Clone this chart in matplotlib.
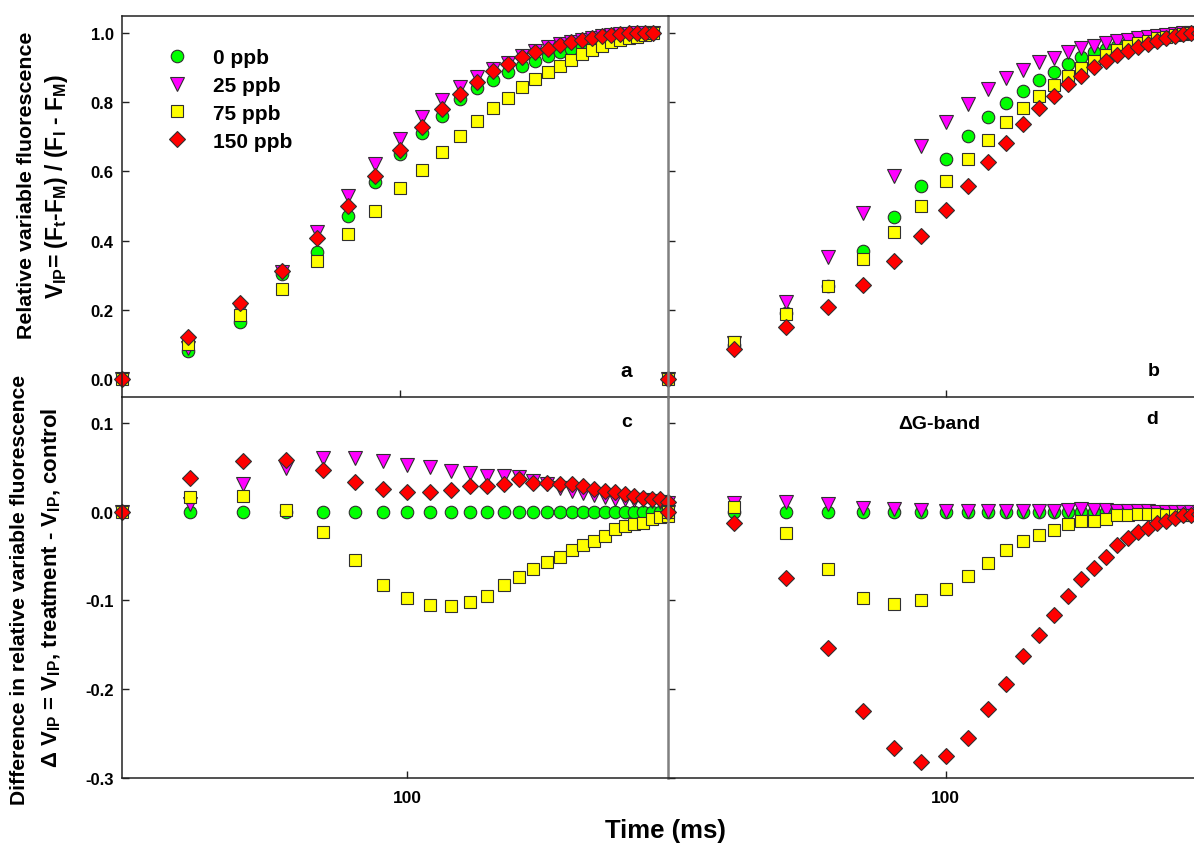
import matplotlib
matplotlib.use('Agg')
import matplotlib.pyplot as plt
from matplotlib.ticker import NullLocator, FixedLocator, FixedFormatter

plt.rcParams['font.family'] = ['Liberation Sans', 'DejaVu Sans']
plt.rcParams['font.weight'] = 'bold'
plt.rcParams['mathtext.fontset'] = 'custom'
plt.rcParams['mathtext.rm'] = 'Liberation Sans:bold'
plt.rcParams['mathtext.it'] = 'Liberation Sans:bold'
plt.rcParams['mathtext.bf'] = 'Liberation Sans:bold'
plt.rcParams['mathtext.default'] = 'rm'

# ---------------- data ----------------
time_ms = [30, 40, 50, 60, 70, 80, 90, 100, 110, 120, 130, 140, 150, 160,
           170, 180, 190, 200, 210, 220, 230, 240, 250, 260, 270, 280, 290, 300]
labels = ['0 ppb', '25 ppb', '75 ppb', '150 ppb']

# panel a : V_IP
a_0 = [0, 0.083, 0.164, 0.305, 0.366, 0.472, 0.568, 0.650, 0.710, 0.760, 0.808, 0.839, 0.863, 0.885,
       0.904, 0.919, 0.933, 0.943, 0.953, 0.961, 0.968, 0.974, 0.979, 0.984, 0.988, 0.992, 0.996, 1.0]
a_25 = [0, 0.090, 0.200, 0.310, 0.425, 0.530, 0.621, 0.693, 0.756, 0.806, 0.842, 0.871, 0.895, 0.912,
        0.932, 0.948, 0.958, 0.967, 0.974, 0.980, 0.985, 0.989, 0.992, 0.995, 0.997, 0.998, 0.999, 1.0]
a_75 = [0, 0.102, 0.185, 0.262, 0.342, 0.419, 0.485, 0.551, 0.605, 0.656, 0.703, 0.745, 0.782, 0.811,
        0.842, 0.867, 0.887, 0.904, 0.922, 0.938, 0.950, 0.962, 0.972, 0.978, 0.983, 0.988, 0.993, 1.0]
a_150 = [0, 0.123, 0.220, 0.313, 0.408, 0.500, 0.587, 0.662, 0.727, 0.780, 0.823, 0.858, 0.888, 0.909,
         0.929, 0.943, 0.953, 0.965, 0.972, 0.979, 0.985, 0.990, 0.993, 0.996, 0.998, 0.999, 1.0, 1.0]

# panel b : V_IP
b_0 = [0, 0.100, 0.190, 0.270, 0.371, 0.467, 0.558, 0.635, 0.701, 0.756, 0.797, 0.832, 0.863, 0.887,
       0.909, 0.929, 0.943, 0.953, 0.962, 0.969, 0.975, 0.981, 0.986, 0.990, 0.993, 0.996, 0.998, 1.0]
b_25 = [0, 0.105, 0.222, 0.352, 0.479, 0.587, 0.674, 0.741, 0.794, 0.837, 0.869, 0.893, 0.914, 0.926,
        0.943, 0.955, 0.962, 0.970, 0.977, 0.980, 0.984, 0.988, 0.991, 0.994, 0.996, 0.998, 0.999, 1.0]
b_75 = [0, 0.107, 0.188, 0.268, 0.347, 0.426, 0.499, 0.573, 0.635, 0.691, 0.741, 0.783, 0.818, 0.850,
        0.876, 0.897, 0.917, 0.935, 0.949, 0.960, 0.969, 0.977, 0.983, 0.988, 0.992, 0.995, 0.998, 1.0]
b_150 = [0, 0.087, 0.150, 0.210, 0.273, 0.340, 0.414, 0.488, 0.557, 0.626, 0.682, 0.735, 0.782, 0.818,
         0.852, 0.874, 0.900, 0.919, 0.936, 0.948, 0.958, 0.967, 0.977, 0.984, 0.990, 0.995, 0.998, 1.0]

# panel c : delta V_IP
c_0 = [0, 0, 0, 0, 0, 0, 0, 0, 0, 0, 0, 0, 0, 0,
       0, 0, 0, 0, 0, 0, 0, 0, 0, 0, 0, 0, 0, 0]
c_25 = [0, 0.009, 0.031, 0.050, 0.061, 0.061, 0.057, 0.053, 0.051, 0.046, 0.044, 0.041, 0.040, 0.039,
        0.035, 0.031, 0.027, 0.024, 0.021, 0.019, 0.017, 0.015, 0.014, 0.013, 0.013, 0.012, 0.011, 0.010]
c_75 = [0, 0.017, 0.018, 0.002, -0.023, -0.054, -0.083, -0.097, -0.105, -0.106, -0.102, -0.095, -0.083, -0.074,
        -0.065, -0.056, -0.051, -0.043, -0.037, -0.033, -0.027, -0.019, -0.016, -0.014, -0.012, -0.008, -0.006, -0.005]
c_150 = [0, 0.038, 0.057, 0.058, 0.047, 0.034, 0.026, 0.022, 0.023, 0.025, 0.029, 0.029, 0.032, 0.037,
         0.033, 0.033, 0.031, 0.031, 0.029, 0.026, 0.024, 0.022, 0.020, 0.018, 0.016, 0.015, 0.015, 0.011]

# panel d : delta V_IP
d_0 = [0, 0, 0, 0, 0, 0, 0, 0, 0, 0, 0, 0, 0, 0,
       0, 0, 0, 0, 0, 0, 0, 0, 0, 0, 0, 0, 0, 0]
d_25 = [0, 0.010, 0.011, 0.009, 0.004, 0.003, 0.002, 0.001, 0.001, 0.001, 0.001, 0.001, 0.001, 0.001,
        0.002, 0.003, 0.002, 0.002, 0.001, 0.001, 0.001, 0.001, 0.000, 0.000, 0.000, 0.000, 0.000, 0.000]
d_75 = [0, 0.005, -0.024, -0.065, -0.097, -0.104, -0.100, -0.087, -0.072, -0.058, -0.043, -0.033, -0.026, -0.021,
        -0.014, -0.010, -0.010, -0.0075, -0.004, -0.003, -0.0025, -0.0025, -0.0025, -0.003, -0.003, -0.003, -0.003, -0.003]
d_150 = [0, -0.012, -0.075, -0.154, -0.225, -0.267, -0.282, -0.275, -0.255, -0.223, -0.194, -0.163, -0.139, -0.116,
         -0.095, -0.076, -0.063, -0.051, -0.037, -0.029, -0.023, -0.018, -0.013, -0.010, -0.007, -0.004, -0.003, -0.002]

top_ticks = [0.0, 0.2, 0.4, 0.6, 0.8, 1.0]
bottom_ticks = [-0.3, -0.2, -0.1, 0.0, 0.1]
x_tick = [100]

# ---------------- styles ----------------
markers = ['o', 'v', 's', 'D']
colors = ['#00ff00', '#ff00ff', '#ffff00', '#ff0000']
msizes = [9, 9.5, 8.5, 7.8]
edge = '#303030'

W, H = 1194, 845
fig = plt.figure(figsize=(W / 100, H / 100), dpi=100)


def rect(x0, y0, x1, y1):
    return [x0 / W, 1 - y1 / H, (x1 - x0) / W, (y1 - y0) / H]


ax_a = fig.add_axes(rect(122, 17.3, 668, 397.7))
ax_b = fig.add_axes(rect(668, 17.3, 1214, 397.7))
ax_c = fig.add_axes(rect(122, 397.7, 668, 778.7))
ax_d = fig.add_axes(rect(668, 397.7, 1214, 778.7))

panels = [
    (ax_a, [a_0, a_25, a_75, a_150], (30, 320), (-0.05, 1.047), top_ticks),
    (ax_b, [b_0, b_25, b_75, b_150], (30, 320), (-0.05, 1.047), top_ticks),
    (ax_c, [c_0, c_25, c_75, c_150], (30, 300), (-0.3, 0.13), bottom_ticks),
    (ax_d, [d_0, d_25, d_75, d_150], (30, 320), (-0.3, 0.13), bottom_ticks),
]

for ax, series, xl, yl, yt in panels:
    for ser, mk, col, ms, lab in zip(series, markers, colors, msizes, labels):
        ax.plot(time_ms, ser, linestyle='none', marker=mk, markersize=ms,
                markerfacecolor=col, markeredgecolor=edge, markeredgewidth=0.8,
                clip_on=False, label=lab)
    ax.set_xscale('log')
    ax.set_xlim(*xl)
    ax.set_ylim(*yl)
    ax.xaxis.set_major_locator(FixedLocator(x_tick))
    ax.xaxis.set_minor_locator(NullLocator())
    ax.xaxis.set_major_formatter(FixedFormatter([str(v) for v in x_tick]))
    ax.set_yticks(yt)
    ax.set_yticklabels(['%.1f' % v for v in yt])
    ax.tick_params(axis='both', direction='in', length=5, width=1, color='#222222',
                   labelsize=12, pad=6)
    ax.tick_params(axis='x', labelsize=12.5, pad=9)
    for s in ax.spines.values():
        s.set_color('#222222')
        s.set_linewidth(1.1)
    ax.set_facecolor('none')

for ax in (ax_a, ax_c):
    ax.spines['right'].set_visible(False)
for ax in (ax_b, ax_d):
    ax.spines['left'].set_color('#808080')
    ax.spines['left'].set_linewidth(1.8)
    ax.tick_params(axis='y', labelleft=False)
for ax in (ax_c, ax_d):
    ax.spines['top'].set_visible(False)
for ax in (ax_a, ax_b):
    ax.tick_params(axis='x', labelbottom=False)

leg = ax_a.legend(loc='upper left', bbox_to_anchor=(0.072, 0.917), frameon=False,
                  fontsize=15, handlelength=1.5, handletextpad=1.0, labelspacing=0.43,
                  borderpad=0, borderaxespad=0, numpoints=1)


def ftext(x, y, s, **kw):
    fig.text(x / W, 1 - y / H, s, **kw)


ftext(626, 372, 'a', fontsize=15, ha='center', va='center')
ftext(1154, 372, 'b', fontsize=14, ha='center', va='center')
ftext(627, 423, 'c', fontsize=14, ha='center', va='center')
ftext(1152, 420, 'd', fontsize=14, ha='center', va='center')
ftext(939, 425, 'ΔG-band', fontsize=14, ha='center', va='center')

ftext(27, 185, 'Relative variable fluorescence', fontsize=15.4, rotation=90,
      ha='center', va='center')
ftext(57, 186, r'V$_{IP}$= (F$_{t}$-F$_{M}$) / (F$_{I}$ - F$_{M}$)', fontsize=16.5,
      rotation=90, ha='center', va='center')
ftext(20, 590, 'Difference in relative variable fluorescence', fontsize=15.2,
      rotation=90, ha='center', va='center')
ftext(51, 588, r'Δ V$_{IP}$ = V$_{IP}$, treatment - V$_{IP}$, control', fontsize=16,
      rotation=90, ha='center', va='center')
ftext(665, 831, 'Time (ms)', fontsize=18.5, ha='center', va='center')

fig.savefig('out.png', dpi=100)
